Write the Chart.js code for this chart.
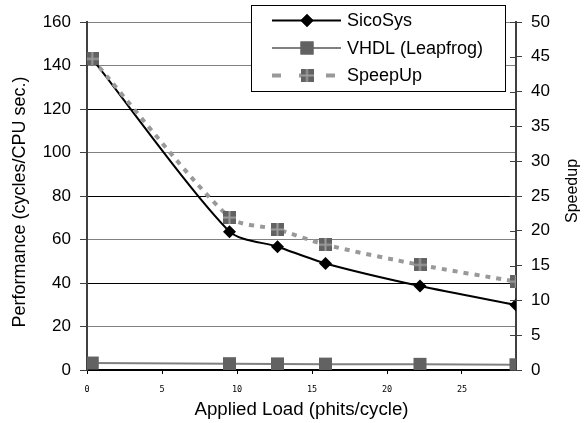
<!DOCTYPE html>
<html><head><meta charset="utf-8">
<script src="https://cdn.jsdelivr.net/npm/chart.js@4.4.0/dist/chart.umd.min.js"></script>
<style>html,body{margin:0;padding:0;background:#fff}#wrap{width:584px;height:423px;position:relative}canvas{display:block}</style>
</head><body><div id="wrap"><canvas id="c" width="584" height="423" style="width:584px;height:423px"></canvas></div>
<script>
// ---- data ----
const loads   = [0.35, 9.5, 12.7, 15.9, 22.2, 28.6];
const sicosys = [143, 63.6, 56.7, 49.0, 38.6, 29.9];
const vhdl    = [3.2, 2.9, 2.8, 2.7, 2.6, 2.4];
const speedup = [44.7, 21.9, 20.2, 18.0, 15.1, 12.7];
const seriesNames = ['SicoSys', 'VHDL (Leapfrog)', 'SpeepUp'];
const xTicks = [0, 5, 10, 15, 20, 25];
const leftTicks = [0, 20, 40, 60, 80, 100, 120, 140, 160];
const rightTicks = [0, 5, 10, 15, 20, 25, 30, 35, 40, 45, 50];
const xTitle = 'Applied Load (phits/cycle)';
const leftTitle = 'Performance (cycles/CPU sec.)';
const rightTitle = 'Speedup';

const FONT = '"Liberation Sans", Arial, sans-serif';

function speedMarker(){
  const c=document.createElement('canvas'); c.width=13; c.height=13;
  const g=c.getContext('2d');
  g.fillStyle='#626262'; g.fillRect(0,0,13,13);
  g.fillStyle='#9c9c9c'; g.fillRect(5.5,0,2,13); g.fillRect(0,5.5,13,2);
  return c;
}
const spMark = speedMarker();

const pts = (ys) => loads.map((x,i)=>({x:x,y:ys[i]}));

const legendPlugin = {
  id:'floatLegend',
  afterDraw(chart){
    const ctx=chart.ctx;
    const x0=251.5, y0=5.5, w=254, h=86;
    ctx.save();
    ctx.fillStyle='#fff'; ctx.fillRect(x0,y0,w,h);
    ctx.strokeStyle='#000'; ctx.lineWidth=1; ctx.strokeRect(x0,y0,w,h);
    const rows=[20.5,48,75.5];
    chart.data.datasets.forEach((ds,i)=>{
      const y=rows[i];
      ctx.save();
      ctx.strokeStyle=ds.borderColor; ctx.lineWidth=ds.borderWidth;
      if(ds.legendDash) ctx.setLineDash(ds.legendDash);
      ctx.beginPath(); ctx.moveTo(272,y); ctx.lineTo(341,y); ctx.stroke();
      ctx.restore();
      ctx.save();
      ctx.fillStyle=ds.pointBackgroundColor||'#626262';
      Chart.helpers.drawPoint(ctx,{pointStyle:ds.pointStyle,radius:ds.pointRadius,borderWidth:0,rotation:0},307,y);
      if(ds.pointStyle!==spMark){ ctx.fill(); }
      ctx.restore();
      ctx.fillStyle='#000'; ctx.font='18px '+FONT; ctx.textBaseline='middle'; ctx.textAlign='left';
      ctx.fillText(ds.label,347,y+1);
    });
    ctx.restore();
  }
};

const extrasPlugin = {
  id:'extras',
  afterDraw(chart){
    const s=chart.scales.y2, ctx=chart.ctx;
    ctx.save(); ctx.strokeStyle='#404040'; ctx.lineWidth=1;
    rightTicks.forEach(v=>{const y=Math.round(s.getPixelForValue(v))+0.5;ctx.beginPath();ctx.moveTo(s.left-6,y);ctx.lineTo(s.left,y);ctx.stroke();});
    // vertical axis titles, both reading bottom-to-top
    ctx.fillStyle='#000'; ctx.textAlign='center'; ctx.textBaseline='middle';
    ctx.save(); ctx.translate(20,202); ctx.rotate(-Math.PI/2);
    ctx.font='18px '+FONT; ctx.fillText(leftTitle,0,0); ctx.restore();
    ctx.save(); ctx.translate(573,191); ctx.rotate(-Math.PI/2);
    ctx.font='16px '+FONT; ctx.fillText(rightTitle,0,0); ctx.restore();
    ctx.restore();
  }
};

new Chart(document.getElementById('c'),{
  type:'line',
  data:{datasets:[
    {label:seriesNames[0], data:pts(sicosys), yAxisID:'y', borderColor:'#000', borderWidth:2, tension:0.25,
     pointStyle:'rectRot', pointRadius:6.5, pointBackgroundColor:'#000', pointBorderWidth:0, order:1},
    {label:seriesNames[1], data:pts(vhdl), yAxisID:'y', borderColor:'#808080', borderWidth:2, tension:0,
     pointStyle:'rect', pointRadius:9.2, pointBackgroundColor:'#626262', pointBorderWidth:0, order:2},
    {label:seriesNames[2], data:pts(speedup), yAxisID:'y2', borderColor:'#999999', borderWidth:4, tension:0.25,
     borderDash:[5,6], legendDash:[9,18], pointStyle:spMark, pointRadius:6.5, pointBorderWidth:0, order:0}
  ]},
  options:{
    responsive:false, animation:false, devicePixelRatio:1,
    layout:{padding:{top:22,left:0,right:0,bottom:0}},
    plugins:{legend:{display:false}, tooltip:{enabled:false}},
    scales:{
      x:{type:'linear', min:0, max:28.6,
        afterBuildTicks(s){ s.ticks = xTicks.map(v=>({value:v})); },
        afterFit(s){ s.height=53; },
        grid:{drawOnChartArea:false, drawTicks:true, tickLength:4, tickColor:'#000'},
        border:{color:'#000', width:2},
        ticks:{font:{family:'"DejaVu Sans Mono", monospace', size:8.5}, color:'#000', padding:11, maxRotation:0, autoSkip:false},
        title:{display:true, text:xTitle, font:{family:FONT, size:18.7}, color:'#000', padding:{top:0,bottom:2}}
      },
      y:{type:'linear', position:'left', min:0, max:160,
        afterBuildTicks(s){ s.ticks = leftTicks.map(v=>({value:v})); },
        afterFit(s){ s.width=87; },
        grid:{color:(c)=>{const v=c.tick&&c.tick.value; if(v===0) return 'rgba(0,0,0,0)'; return (v===120||v===80||v===40)?'#000':'#808080';},
              lineWidth:1, tickLength:7, tickColor:'#404040'},
        border:{color:'#404040', width:2},
        ticks:{font:{family:FONT, size:17}, color:'#000', padding:9, autoSkip:false},
        title:{display:false}
      },
      y2:{type:'linear', position:'right', min:0, max:50,
        afterBuildTicks(s){ s.ticks = rightTicks.map(v=>({value:v})); },
        afterFit(s){ s.width=68; },
        grid:{drawOnChartArea:false, tickLength:6, tickColor:'#404040'},
        border:{color:'#404040', width:2},
        ticks:{font:{family:FONT, size:17}, color:'#000', padding:9, autoSkip:false},
        title:{display:false}
      }
    }
  },
  plugins:[extrasPlugin, legendPlugin]
});
</script></body></html>
